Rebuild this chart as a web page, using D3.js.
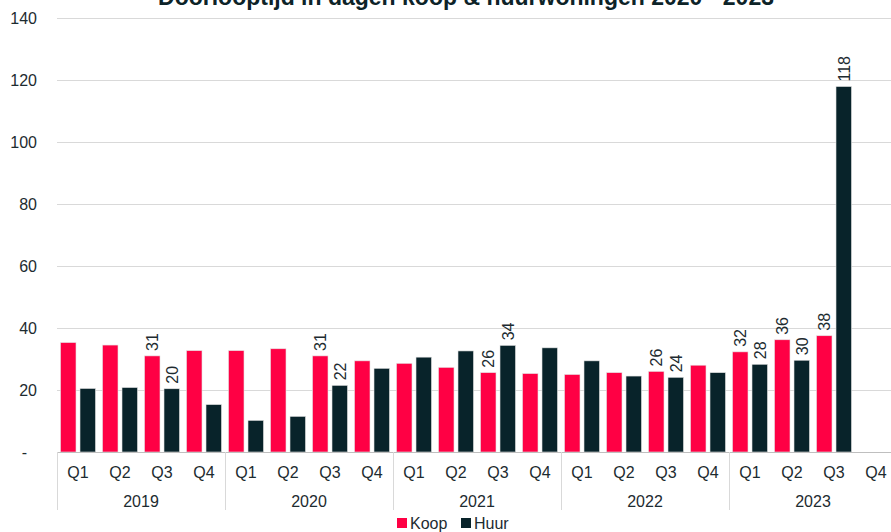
<!DOCTYPE html>
<html>
<head>
<meta charset="utf-8">
<script src="https://cdn.jsdelivr.net/npm/d3@7"></script>
<style>
  html, body { margin: 0; padding: 0; background: #fff; }
  svg { display: block; font-family: "Liberation Sans", Arial, sans-serif; }
</style>
</head>
<body>
<svg id="chart" width="891" height="532"></svg>
<script>
// Data
const years = ["2019", "2020", "2021", "2022", "2023"];
const quarters = ["Q1", "Q2", "Q3", "Q4"];
const series = ["Koop", "Huur"];
const koop = [35.3, 34.5, 31.0, 32.7, 32.7, 33.3, 31.0, 29.4, 28.6, 27.3, 25.6, 25.3, 25.0, 25.6, 26.0, 28.0, 32.3, 36.2, 37.5, null];
const huur = [20.5, 20.8, 20.4, 15.3, 10.2, 11.5, 21.5, 27.0, 30.6, 32.6, 34.4, 33.6, 29.4, 24.5, 24.1, 25.6, 28.3, 29.6, 117.9, null];
// which quarters (index) carry a value label
const labelled = [2, 6, 10, 14, 16, 17, 18];
const yTicks = [0, 20, 40, 60, 80, 100, 120, 140];

const colors = { Koop: "#ff0044", Huur: "#08232a" };
const textColor = "#1d2b30";

const svg = d3.select("#chart");
const margin = { left: 57, top: 18, bottom: 80 };
const plotRight = 897; // plot runs slightly past the window edge
const baseY = 452;

// one band per quarter
const slots = [];
years.forEach(y => quarters.forEach(q => slots.push(y + "-" + q)));

const x = d3.scaleBand().domain(slots).range([margin.left, plotRight]).padding(0);
const xSeries = d3.scaleBand().domain(series).range([0, x.bandwidth()])
  .paddingInner(0.205).paddingOuter(0.18);
const y = d3.scaleLinear().domain([0, 140]).range([baseY, margin.top]);

// gridlines
svg.append("g")
  .selectAll("line")
  .data(yTicks.filter(d => d > 0))
  .join("line")
  .attr("x1", margin.left).attr("x2", 891)
  .attr("y1", d => Math.round(y(d)) + 0.5).attr("y2", d => Math.round(y(d)) + 0.5)
  .attr("stroke", "#d9d9d9").attr("stroke-width", 1);

// y-axis labels
svg.append("g")
  .selectAll("text")
  .data(yTicks)
  .join("text")
  .attr("x", d => d === 0 ? 27 : 37)
  .attr("y", d => y(d))
  .attr("dy", "0.35em")
  .attr("text-anchor", "end")
  .attr("font-size", 16)
  .attr("fill", textColor)
  .text(d => d === 0 ? "-" : d);

// bars
const rows = slots.map((s, i) => ({ slot: s, i, Koop: koop[i], Huur: huur[i] }));

const groups = svg.append("g")
  .selectAll("g")
  .data(rows)
  .join("g")
  .attr("transform", d => `translate(${x(d.slot)},0)`);

groups.selectAll("rect")
  .data(d => series.filter(k => d[k] != null).map(k => ({ key: k, value: d[k], i: d.i })))
  .join("rect")
  .attr("x", d => xSeries(d.key))
  .attr("width", xSeries.bandwidth())
  .attr("y", d => y(d.value))
  .attr("height", d => baseY - y(d.value))
  .attr("fill", d => colors[d.key])
  .attr("stroke", "#e4e4e4")
  .attr("stroke-width", 0.6);

// value labels, rotated
groups.filter(d => labelled.includes(d.i))
  .selectAll("text")
  .data(d => series.filter(k => d[k] != null).map(k => ({ key: k, value: d[k] })))
  .join("text")
  .attr("transform", d => `translate(${xSeries(d.key) + xSeries.bandwidth() / 2 + 6},${y(d.value) - 5}) rotate(-90)`)
  .attr("text-anchor", "start")
  .attr("font-size", 16)
  .attr("fill", textColor)
  .text(d => Math.round(d.value));

// x axis baseline
svg.append("line")
  .attr("x1", margin.left).attr("x2", 891)
  .attr("y1", baseY + 0.5).attr("y2", baseY + 0.5)
  .attr("stroke", "#bfbfbf");

// year separators
const yearEdges = years.map(yr => x(yr + "-Q1")).concat([plotRight]);
svg.append("g")
  .selectAll("line")
  .data(yearEdges)
  .join("line")
  .attr("x1", d => Math.round(d) + 0.5).attr("x2", d => Math.round(d) + 0.5)
  .attr("y1", baseY).attr("y2", 510)
  .attr("stroke", "#d9d9d9");

// quarter labels
svg.append("g")
  .selectAll("text")
  .data(slots)
  .join("text")
  .attr("x", d => x(d) + x.bandwidth() / 2)
  .attr("y", 472)
  .attr("dy", "0.35em")
  .attr("text-anchor", "middle")
  .attr("font-size", 16)
  .attr("fill", textColor)
  .text(d => d.split("-")[1]);

// year labels
svg.append("g")
  .selectAll("text")
  .data(years)
  .join("text")
  .attr("x", d => x(d + "-Q2") + x.bandwidth())
  .attr("y", 501)
  .attr("dy", "0.35em")
  .attr("text-anchor", "middle")
  .attr("font-size", 16)
  .attr("fill", textColor)
  .text(d => d);

// title (cut off at the top in the reference)
svg.append("text")
  .attr("x", 466)
  .attr("y", 5)
  .attr("text-anchor", "middle")
  .attr("font-size", 23)
  .attr("font-weight", "bold")
  .attr("fill", "#0d2328")
  .text("Doorlooptijd in dagen koop & huurwoningen 2020 - 2023");

// legend
const legend = svg.append("g").attr("transform", "translate(397,523)");
const legendItems = legend.selectAll("g")
  .data(series)
  .join("g")
  .attr("transform", (d, i) => `translate(${i * 64},0)`);
legendItems.append("rect")
  .attr("x", 0).attr("y", -5).attr("width", 10).attr("height", 10)
  .attr("fill", d => colors[d]);
legendItems.append("text")
  .attr("x", 13).attr("y", 0).attr("dy", "0.35em")
  .attr("font-size", 16)
  .attr("fill", textColor)
  .text(d => d);
</script>
</body>
</html>
